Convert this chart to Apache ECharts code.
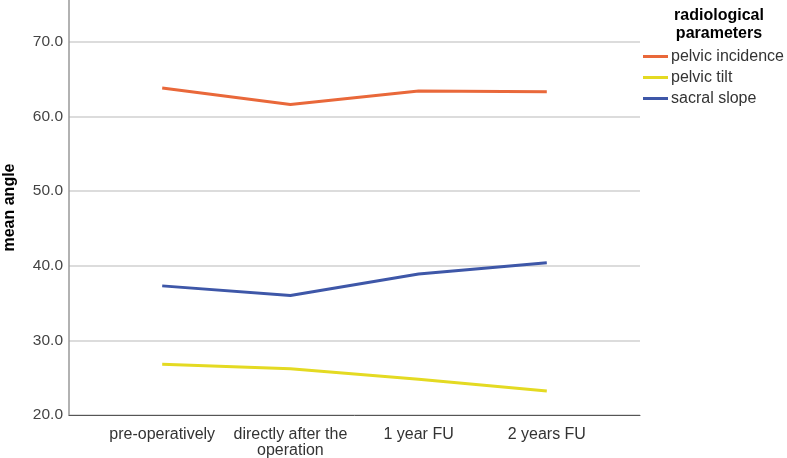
<!DOCTYPE html>
<html>
<head>
<meta charset="utf-8">
<script src="https://cdn.jsdelivr.net/npm/echarts@6/dist/echarts.min.js"></script>
<style>html,body{margin:0;padding:0;background:#fff}#c{width:787px;height:458px}</style>
</head>
<body>
<div id="c"></div>
<script>
var categories = ['pre-operatively', 'directly after the\noperation', '1 year FU', '2 years FU'];
var pelvicIncidence = [63.8, 61.6, 63.4, 63.3];
var pelvicTilt = [26.8, 26.2, 24.8, 23.2];
var sacralSlope = [37.3, 36.0, 38.9, 40.4];
var seriesNames = ['pelvic incidence', 'pelvic tilt', 'sacral slope'];
var seriesColors = ['#e9683a', '#e4da22', '#3e57a8'];
var yTicks = [20, 30, 40, 50, 60, 70];

function pairs(vals) { return vals.map(function (v, i) { return [i, v]; }); }
var allValues = [pelvicIncidence, pelvicTilt, sacralSlope];

var chart = echarts.init(document.getElementById('c'), null, {renderer: 'canvas'});
var font = 'Arial, "Liberation Sans", sans-serif';
chart.setOption({
  animation: false,
  backgroundColor: '#fff',
  grid: {left: 69, right: 147, top: 0, bottom: 43, containLabel: false, outerBoundsMode: 'none'},
  xAxis: {
    type: 'value',
    min: -0.727, max: 3.727,
    axisLine: {show: true, onZero: false, lineStyle: {color: '#555', width: 1}},
    axisTick: {show: false},
    splitLine: {show: false},
    axisLabel: {
      customValues: [0, 1, 2, 3],
      formatter: function (v) { return categories[Math.round(v)]; },
      color: '#333', fontSize: 16, fontFamily: font, lineHeight: 16, margin: 12,
      showMinLabel: true, showMaxLabel: true
    }
  },
  yAxis: {
    type: 'value', min: yTicks[0], max: 75.6, interval: 10,
    name: 'mean angle', nameLocation: 'middle', nameGap: 51,
    nameTextStyle: {fontWeight: 'bold', fontSize: 16, color: '#000', fontFamily: font},
    axisLine: {show: true, onZero: false, lineStyle: {color: '#999', width: 1.5}},
    axisTick: {show: false},
    axisLabel: {
      formatter: function (v) { return v.toFixed(1); },
      showMaxLabel: false, color: '#444', fontSize: 15.5, fontFamily: font, margin: 6
    },
    splitLine: {show: true, lineStyle: {color: ['#d0d0d0','#d0d0d0','#d0d0d0','#d0d0d0','#d0d0d0','#d0d0d0','rgba(0,0,0,0)'], width: 1.5}}
  },
  title: {
    text: 'radiological\nparameters', left: 714, top: 2, textAlign: 'center',
    textStyle: {fontWeight: 'bold', fontSize: 16, color: '#000', fontFamily: font, lineHeight: 18}
  },
  legend: {
    orient: 'vertical', left: 638, top: 43, itemWidth: 25, itemHeight: 3, itemGap: 4,
    icon: 'rect',
    textStyle: {fontSize: 16, color: '#333', fontFamily: font, lineHeight: 17, padding: [0, 0, 0, -2]},
    data: seriesNames
  },
  series: seriesNames.map(function (n, i) {
    return {
      name: n, type: 'line', data: pairs(allValues[i]), showSymbol: false, symbol: 'none',
      lineStyle: {color: seriesColors[i], width: 3}, itemStyle: {color: seriesColors[i]}
    };
  })
});
</script>
</body>
</html>
